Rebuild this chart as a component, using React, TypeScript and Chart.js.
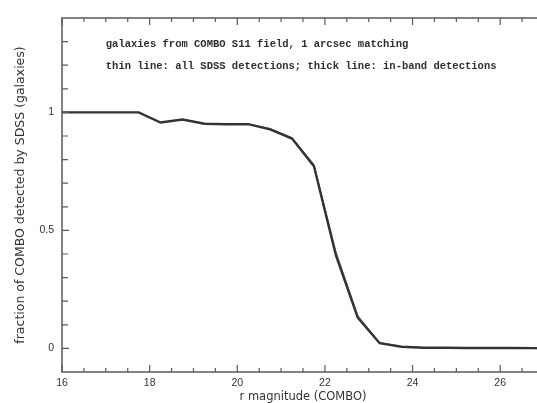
import { useEffect, useRef } from 'react';
import { Chart, registerables } from 'chart.js';

Chart.register(...registerables);

// r magnitude (COMBO) bin positions
const magnitudes = [16, 16.75, 17.25, 17.75, 18.25, 18.75, 19.25, 19.75, 20.25, 20.75, 21.25, 21.75, 22.25, 22.75, 23.25, 23.75, 24.25, 24.75, 25.25, 25.75, 26.25, 26.75, 27];
// thick line: in-band detections
const inBandFraction = [1, 1, 1, 1, 0.957, 0.97, 0.952, 0.95, 0.95, 0.928, 0.889, 0.772, 0.395, 0.13, 0.022, 0.007, 0.003, 0.003, 0.002, 0.002, 0.002, 0.001, 0.0];
// thin line: all SDSS detections
const allSdssFraction = [1, 1, 1, 1, 0.958, 0.971, 0.953, 0.951, 0.951, 0.932, 0.893, 0.78, 0.412, 0.14, 0.025, 0.008, 0.004, 0.003, 0.003, 0.002, 0.002, 0.002, 0.001];

const xMajorTicks = [16, 18, 20, 22, 24, 26];
const xMinorTicks = [16.5, 17, 17.5, 18.5, 19, 19.5, 20.5, 21, 21.5, 22.5, 23, 23.5, 24.5, 25, 25.5, 26.5];
const yMajorTicks = [0, 0.5, 1];
const yMinorTicks = [0.1, 0.2, 0.3, 0.4, 0.6, 0.7, 0.8, 0.9, 1.1, 1.2, 1.3];

const annotationLines = [
  'galaxies from COMBO S11 field, 1 arcsec matching',
  'thin line: all SDSS detections; thick line: in-band detections',
];
const annotationX = 17;
const annotationY = [1.29, 1.195];

const xTitle = 'r magnitude (COMBO)';
const yTitle = 'fraction of COMBO detected by SDSS (galaxies)';

const framePlugin = {
  id: 'frame',
  afterDatasetsDraw(chart: any) {
    const { ctx, chartArea, scales } = chart;
    const xs = scales.x;
    const ys = scales.y;
    const { left, right, top, bottom } = chartArea;
    ctx.save();
    ctx.strokeStyle = '#5a5a5a';
    ctx.lineWidth = 1.5;
    ctx.strokeRect(left, top, right - left, bottom - top);
    ctx.lineWidth = 1.2;
    const xTick = (v: number, len: number) => {
      const px = xs.getPixelForValue(v);
      ctx.beginPath();
      ctx.moveTo(px, bottom);
      ctx.lineTo(px, bottom - len);
      ctx.moveTo(px, top);
      ctx.lineTo(px, top + len);
      ctx.stroke();
    };
    const yTick = (v: number, len: number) => {
      const py = ys.getPixelForValue(v);
      ctx.beginPath();
      ctx.moveTo(left, py);
      ctx.lineTo(left + len, py);
      ctx.moveTo(right, py);
      ctx.lineTo(right - len, py);
      ctx.stroke();
    };
    xMajorTicks.forEach((v) => xTick(v, 7));
    xMinorTicks.forEach((v) => xTick(v, 4));
    yMajorTicks.forEach((v) => yTick(v, 7));
    yMinorTicks.forEach((v) => yTick(v, 6));

    ctx.fillStyle = '#2e2e2e';
    ctx.font = 'bold 10.5px "Liberation Mono"';
    ctx.textAlign = 'left';
    ctx.textBaseline = 'middle';
    annotationLines.forEach((t, i) => {
      ctx.fillText(t, xs.getPixelForValue(annotationX), ys.getPixelForValue(annotationY[i]));
    });
    ctx.restore();
  },
};

export default function App() {
  const ref = useRef<HTMLCanvasElement | null>(null);
  useEffect(() => {
    if (!ref.current) return;
    const chart = new Chart(ref.current, {
      type: 'line',
      data: {
        datasets: [
          {
            label: 'in-band detections',
            data: magnitudes.map((m, i) => ({ x: m, y: inBandFraction[i] })),
            borderColor: '#333333',
            borderWidth: 2.4,
            pointRadius: 0,
            tension: 0,
          },
          {
            label: 'all SDSS detections',
            data: magnitudes.map((m, i) => ({ x: m, y: allSdssFraction[i] })),
            borderColor: '#6a6a6a',
            borderWidth: 1,
            pointRadius: 0,
            tension: 0,
          },
        ],
      },
      options: {
        animation: false,
        responsive: false,
        layout: { padding: { top: 18, right: 16, left: 0, bottom: 0 } },
        plugins: { legend: { display: false }, tooltip: { enabled: false } },
        scales: {
          x: {
            type: 'linear',
            min: 16,
            max: 27,
            afterBuildTicks: (s: any) => {
              s.ticks = xMajorTicks.map((value) => ({ value }));
            },
            afterFit: (s: any) => {
              s.height = 31;
            },
            grid: { display: false, drawTicks: false },
            border: { display: false },
            ticks: {
              autoSkip: false,
              maxRotation: 0,
              padding: 5,
              color: '#333',
              font: { family: 'Liberation Sans', size: 10.5 },
              callback: (v: any) => String(v),
            },
            title: {
              display: true,
              text: xTitle,
              color: '#333',
              font: { family: 'DejaVu Sans', size: 11.5 },
              padding: { top: 0, bottom: -1 },
            },
          },
          y: {
            type: 'linear',
            min: -0.1,
            max: 1.4,
            afterBuildTicks: (s: any) => {
              s.ticks = yMajorTicks.map((value) => ({ value }));
            },
            afterFit: (s: any) => {
              s.width = 62;
            },
            grid: { display: false, drawTicks: false },
            border: { display: false },
            ticks: {
              autoSkip: false,
              padding: 8,
              color: '#333',
              font: { family: 'Liberation Sans', size: 10.5 },
              callback: (v: any) => String(v),
            },
            title: {
              display: true,
              text: yTitle,
              color: '#333',
              font: { family: 'DejaVu Sans', size: 12.5 },
              padding: { top: 13, bottom: 0 },
            },
          },
        },
      },
      plugins: [framePlugin],
    });
    return () => chart.destroy();
  }, []);
  return (
    <div style={{ position: 'absolute', left: 0, top: 0, width: 537, height: 403, overflow: 'hidden', background: '#fff' }}>
      <canvas ref={ref} width={560} height={403} style={{ display: 'block' }} />
    </div>
  );
}
